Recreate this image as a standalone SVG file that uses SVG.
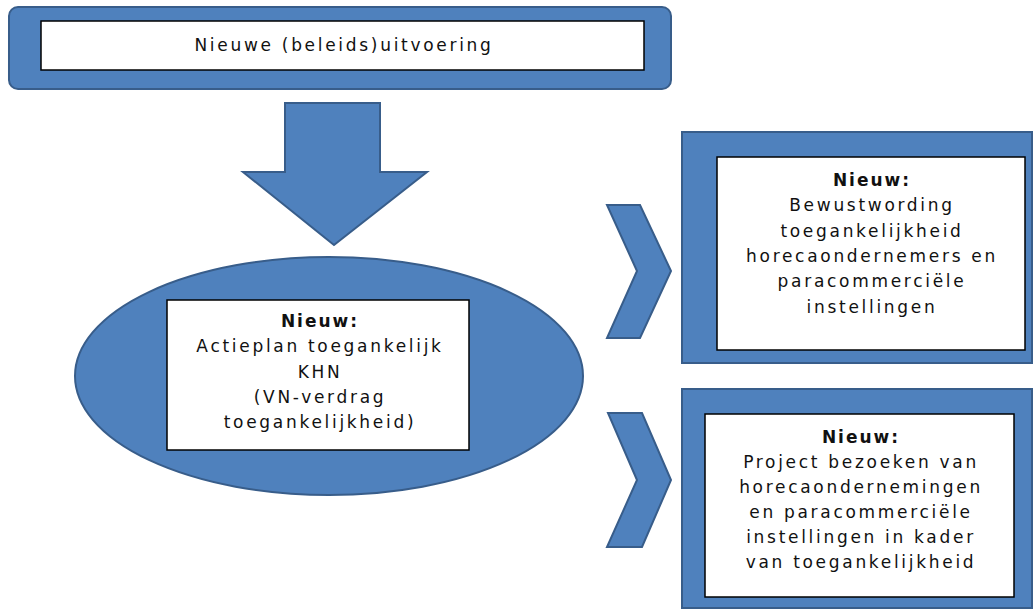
<svg xmlns="http://www.w3.org/2000/svg" width="1034" height="611" viewBox="0 0 1034 611">
<style>
.blue{fill:#4F81BD;stroke:#385D8A;stroke-width:2}
.box{fill:#FFFFFF;stroke:#000000;stroke-width:1.5}
.t{font-family:"DejaVu Sans","Liberation Sans",sans-serif;font-size:17px;fill:#111;text-anchor:middle;letter-spacing:2.7px}
.b{font-weight:bold;letter-spacing:2px}
</style>
<rect width="1034" height="611" fill="#FFFFFF"/>
<g id="connectors">
<path class="blue" d="M285,103 H380 V172 H427 L334,245 L243,172 H285 Z"/>
<path class="blue" d="M607,205 H640 L671,271 L640,338 H607 L637,271 Z"/>
<path class="blue" d="M608,413 H642 L671,480 L642,547 H607 L637,480 Z"/>
</g>
<g id="top">
<rect class="blue" x="9" y="7" width="662" height="82" rx="9"/>
<rect class="box" x="41" y="21" width="603" height="49"/>
<text class="t" x="344" y="51">Nieuwe (beleids)uitvoering</text>
</g>
<g id="actieplan">
<ellipse class="blue" cx="329" cy="376" rx="254" ry="119"/>
<rect class="box" x="167" y="300" width="302" height="150"/>
<text class="t" x="320" y="327"><tspan class="b">Nieuw:</tspan><tspan x="320" dy="25.3">Actieplan toegankelijk</tspan><tspan x="320" dy="25.3">KHN</tspan><tspan x="320" dy="25.3">(VN-verdrag</tspan><tspan x="320" dy="25.3">toegankelijkheid)</tspan></text>
</g>
<g id="bewustwording">
<rect class="blue" x="682" y="132" width="350" height="231"/>
<rect class="box" x="717" y="157" width="308" height="193"/>
<text class="t" x="872" y="186"><tspan class="b">Nieuw:</tspan><tspan x="872" dy="25.3">Bewustwording</tspan><tspan x="872" dy="25.3">toegankelijkheid</tspan><tspan x="872" dy="25.3">horecaondernemers en</tspan><tspan x="872" dy="25.3">paracommerciële</tspan><tspan x="872" dy="25.3">instellingen</tspan></text>
</g>
<g id="project">
<rect class="blue" x="682" y="389" width="350" height="219"/>
<rect class="box" x="705" y="414" width="309" height="183"/>
<text class="t" x="861" y="443"><tspan class="b">Nieuw:</tspan><tspan x="861" dy="25">Project bezoeken van</tspan><tspan x="861" dy="25">horecaondernemingen</tspan><tspan x="861" dy="25">en paracommerciële</tspan><tspan x="861" dy="25">instellingen in kader</tspan><tspan x="861" dy="25">van toegankelijkheid</tspan></text>
</g>
</svg>
